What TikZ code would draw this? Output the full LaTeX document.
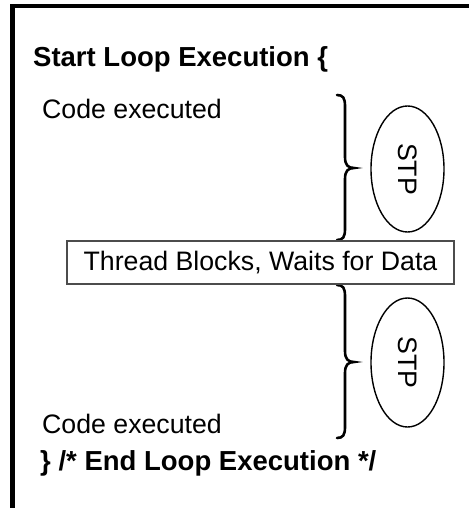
\documentclass[tikz,border=0pt]{standalone}
\usepackage{fontspec}
\setmainfont{Liberation Sans}
\usetikzlibrary{shapes.geometric}
\begin{document}
\begin{tikzpicture}[x=1pt,y=-1pt,
  txt/.style={anchor=base west,inner sep=0pt,font=\fontsize{26.7}{32}\selectfont},
  btxt/.style={txt,font=\fontsize{27.5}{33}\selectfont\bfseries},
  stp/.style={draw,ellipse,line width=1.4pt,rotate=-90,minimum width=126,minimum height=73,inner sep=0pt,font=\fontsize{26.7}{32}\selectfont},
  brc/.style={line width=2.6pt,line cap=round},
  frame/.style={line width=4.5pt},
  waitbox/.style={draw=black!70,line width=1.3pt,minimum width=387,minimum height=43,inner sep=0pt,font=\fontsize{26.7}{32}\selectfont}
]
\useasboundingbox (0,0) rectangle (469,508);
\fill[white] (0,0) rectangle (469,508);
% frame (top and left edges only)
\draw[frame] (12.5,508) -- (12.5,6.2) -- (469,6.2);
% texts
\node[btxt] (start) at (33,67) {Start Loop Execution \{};
\node[txt] (code1) at (42,118) {Code executed};
\node[txt] (code2) at (42,433) {Code executed};
\node[btxt] (end) at (40,470) {\} /* End Loop Execution */};
% upper brace
\draw[brc] (337,95) .. controls (343,95) and (345,98) .. (345,106) -- (345,157)
  .. controls (345,165) and (348,168) .. (354,168)
  .. controls (348,168) and (345,171) .. (345,179) -- (345,229)
  .. controls (345,237) and (343,240) .. (337,240);
% lower brace
\draw[brc] (337,285) .. controls (343,285) and (345,288) .. (345,296) -- (345,351)
  .. controls (345,359) and (348,362) .. (354,362)
  .. controls (348,362) and (345,365) .. (345,373) -- (345,427)
  .. controls (345,435) and (343,438) .. (337,438);
% waiting box
\node[waitbox,fill=white] (wait) at (260.5,262.5) {Thread Blocks, Waits for Data};
% STP ellipses
\node[stp] (stp1) at (407.5,169) {STP};
\node[stp,minimum width=129] (stp2) at (407.5,362.5) {STP};
\end{tikzpicture}
\end{document}
